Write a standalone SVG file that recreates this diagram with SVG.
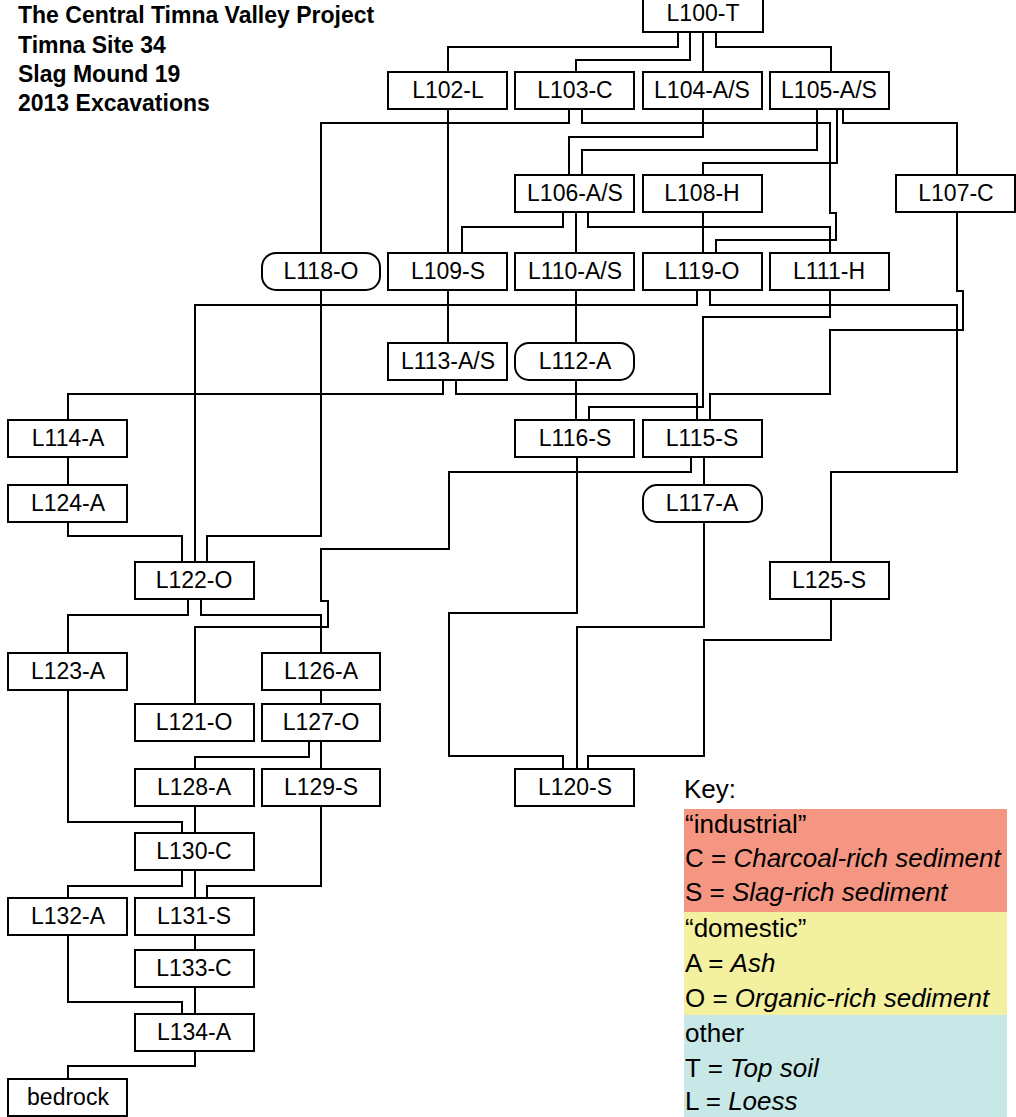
<svg xmlns="http://www.w3.org/2000/svg" width="1016" height="1117" viewBox="0 0 1016 1117">
<style>
.box{fill:#fff;stroke:#000;stroke-width:2}
.lbl{font-family:"Liberation Sans",Arial,sans-serif;font-size:23px;text-anchor:middle;fill:#000}
.con{fill:none;stroke:#000;stroke-width:2}
.title{font-family:"Liberation Sans",Arial,sans-serif;font-size:23px;font-weight:bold;fill:#000}
.key{font-family:"Liberation Sans",Arial,sans-serif;font-size:26px;fill:#000}
.it{font-style:italic}
</style>
<rect width="1016" height="1117" fill="#fff"/>
<g id="title">
<text class="title" x="18" y="23">The Central Timna Valley Project</text>
<text class="title" x="18" y="53">Timna Site 34</text>
<text class="title" x="18" y="82">Slag Mound 19</text>
<text class="title" x="18" y="111">2013 Excavations</text>
</g>
<g id="connectors">
<path class="con" d="M678,32 V47 H448 V72"/>
<path class="con" d="M690,32 V60 H576 V72"/>
<path class="con" d="M703,32 V72"/>
<path class="con" d="M716,32 V47 H831 V72"/>
<path class="con" d="M448,109 V253"/>
<path class="con" d="M569,109 V123 H321 V253"/>
<path class="con" d="M582,109 V123 H830 V213 H836 V240 H716 V253"/>
<path class="con" d="M703,109 V137 H569 V175"/>
<path class="con" d="M817,109 V150 H582 V175"/>
<path class="con" d="M837,109 V163 H703 V175"/>
<path class="con" d="M843,109 V123 H957 V175"/>
<path class="con" d="M563,212 V227 H462 V253"/>
<path class="con" d="M576,212 V253"/>
<path class="con" d="M588,212 V227 H830 V253"/>
<path class="con" d="M703,212 V253"/>
<path class="con" d="M957,212 V291 H963 V330 H830 V394 H710 V420"/>
<path class="con" d="M448,290 V343"/>
<path class="con" d="M576,290 V343"/>
<path class="con" d="M697,290 V305 H195 V562"/>
<path class="con" d="M710,290 V305 H957 V472 H831 V562"/>
<path class="con" d="M830,290 V317 H703 V407 H589 V420"/>
<path class="con" d="M321,290 V536 H207 V562"/>
<path class="con" d="M443,380 V394 H68 V420"/>
<path class="con" d="M456,380 V394 H697 V420"/>
<path class="con" d="M576,380 V420"/>
<path class="con" d="M68,457 V485"/>
<path class="con" d="M577,457 V613 H449 V756 H563 V769"/>
<path class="con" d="M691,457 V472 H449 V549 H321 V601 H328 V627 H195 V704"/>
<path class="con" d="M704,457 V485"/>
<path class="con" d="M68,522 V536 H182 V562"/>
<path class="con" d="M704,522 V627 H577 V769"/>
<path class="con" d="M831,599 V640 H704 V756 H588 V769"/>
<path class="con" d="M188,599 V615 H68 V653"/>
<path class="con" d="M201,599 V615 H321 V653"/>
<path class="con" d="M68,690 V822 H182 V833"/>
<path class="con" d="M321,690 V704"/>
<path class="con" d="M309,741 V757 H195 V769"/>
<path class="con" d="M321,741 V769"/>
<path class="con" d="M195,806 V833"/>
<path class="con" d="M321,806 V886 H207 V898"/>
<path class="con" d="M182,870 V886 H68 V898"/>
<path class="con" d="M195,870 V898"/>
<path class="con" d="M195,935 V950"/>
<path class="con" d="M195,987 V1014"/>
<path class="con" d="M68,935 V1002 H182 V1014"/>
<path class="con" d="M195,1051 V1066 H68 V1079"/>
</g>
<g id="L100-T"><rect class="box" x="643" y="-5" width="120" height="37"/><text class="lbl" x="703" y="21">L100-T</text></g>
<g id="L102-L"><rect class="box" x="388" y="72" width="119" height="37"/><text class="lbl" x="448" y="98">L102-L</text></g>
<g id="L103-C"><rect class="box" x="515" y="72" width="119" height="37"/><text class="lbl" x="575" y="98">L103-C</text></g>
<g id="L104-A/S"><rect class="box" x="643" y="72" width="119" height="37"/><text class="lbl" x="702" y="98">L104-A/S</text></g>
<g id="L105-A/S"><rect class="box" x="770" y="72" width="119" height="37"/><text class="lbl" x="829" y="98">L105-A/S</text></g>
<g id="L106-A/S"><rect class="box" x="515" y="175" width="119" height="37"/><text class="lbl" x="575" y="201">L106-A/S</text></g>
<g id="L108-H"><rect class="box" x="643" y="175" width="119" height="37"/><text class="lbl" x="702" y="201">L108-H</text></g>
<g id="L107-C"><rect class="box" x="896" y="175" width="119" height="37"/><text class="lbl" x="956" y="201">L107-C</text></g>
<g id="L118-O"><rect class="box" x="262" y="253" width="118" height="37" rx="14"/><text class="lbl" x="321" y="279">L118-O</text></g>
<g id="L109-S"><rect class="box" x="388" y="253" width="119" height="37"/><text class="lbl" x="448" y="279">L109-S</text></g>
<g id="L110-A/S"><rect class="box" x="515" y="253" width="119" height="37"/><text class="lbl" x="575" y="279">L110-A/S</text></g>
<g id="L119-O"><rect class="box" x="643" y="253" width="119" height="37"/><text class="lbl" x="702" y="279">L119-O</text></g>
<g id="L111-H"><rect class="box" x="770" y="253" width="119" height="37"/><text class="lbl" x="829" y="279">L111-H</text></g>
<g id="L113-A/S"><rect class="box" x="388" y="343" width="119" height="37"/><text class="lbl" x="448" y="369">L113-A/S</text></g>
<g id="L112-A"><rect class="box" x="515" y="343" width="119" height="37" rx="14"/><text class="lbl" x="575" y="369">L112-A</text></g>
<g id="L114-A"><rect class="box" x="8" y="420" width="119" height="37"/><text class="lbl" x="68" y="446">L114-A</text></g>
<g id="L116-S"><rect class="box" x="515" y="420" width="119" height="37"/><text class="lbl" x="575" y="446">L116-S</text></g>
<g id="L115-S"><rect class="box" x="643" y="420" width="119" height="37"/><text class="lbl" x="702" y="446">L115-S</text></g>
<g id="L124-A"><rect class="box" x="8" y="485" width="119" height="37"/><text class="lbl" x="68" y="511">L124-A</text></g>
<g id="L117-A"><rect class="box" x="643" y="485" width="119" height="37" rx="14"/><text class="lbl" x="702" y="511">L117-A</text></g>
<g id="L122-O"><rect class="box" x="135" y="562" width="119" height="37"/><text class="lbl" x="194" y="588">L122-O</text></g>
<g id="L125-S"><rect class="box" x="770" y="562" width="119" height="37"/><text class="lbl" x="829" y="588">L125-S</text></g>
<g id="L123-A"><rect class="box" x="8" y="653" width="119" height="37"/><text class="lbl" x="68" y="679">L123-A</text></g>
<g id="L126-A"><rect class="box" x="262" y="653" width="118" height="37"/><text class="lbl" x="321" y="679">L126-A</text></g>
<g id="L121-O"><rect class="box" x="135" y="704" width="119" height="37"/><text class="lbl" x="194" y="730">L121-O</text></g>
<g id="L127-O"><rect class="box" x="262" y="704" width="118" height="37"/><text class="lbl" x="321" y="730">L127-O</text></g>
<g id="L128-A"><rect class="box" x="135" y="769" width="119" height="37"/><text class="lbl" x="194" y="795">L128-A</text></g>
<g id="L129-S"><rect class="box" x="262" y="769" width="118" height="37"/><text class="lbl" x="321" y="795">L129-S</text></g>
<g id="L120-S"><rect class="box" x="515" y="769" width="119" height="37"/><text class="lbl" x="575" y="795">L120-S</text></g>
<g id="L130-C"><rect class="box" x="135" y="833" width="119" height="37"/><text class="lbl" x="194" y="859">L130-C</text></g>
<g id="L132-A"><rect class="box" x="8" y="898" width="119" height="37"/><text class="lbl" x="68" y="924">L132-A</text></g>
<g id="L131-S"><rect class="box" x="135" y="898" width="119" height="37"/><text class="lbl" x="194" y="924">L131-S</text></g>
<g id="L133-C"><rect class="box" x="135" y="950" width="119" height="37"/><text class="lbl" x="194" y="976">L133-C</text></g>
<g id="L134-A"><rect class="box" x="135" y="1014" width="119" height="37"/><text class="lbl" x="194" y="1040">L134-A</text></g>
<g id="bedrock"><rect class="box" x="8" y="1079" width="119" height="37"/><text class="lbl" x="68" y="1105">bedrock</text></g>
<g id="key">
<rect x="684" y="809" width="323" height="103" fill="#F49682"/>
<rect x="684" y="912" width="323" height="103" fill="#F3F0A0"/>
<rect x="684" y="1015" width="323" height="102" fill="#C7E8E6"/>
<text class="key" x="684" y="798">Key:</text>
<text class="key" x="685" y="833">“industrial”</text>
<text class="key" x="685" y="867">C = <tspan class="it">Charcoal-rich sediment</tspan></text>
<text class="key" x="685" y="901">S = <tspan class="it">Slag-rich sediment</tspan></text>
<text class="key" x="685" y="937">“domestic”</text>
<text class="key" x="685" y="972">A = <tspan class="it">Ash</tspan></text>
<text class="key" x="685" y="1007">O = <tspan class="it">Organic-rich sediment</tspan></text>
<text class="key" x="685" y="1042">other</text>
<text class="key" x="685" y="1077">T = <tspan class="it">Top soil</tspan></text>
<text class="key" x="685" y="1110">L = <tspan class="it">Loess</tspan></text>
</g>
</svg>
